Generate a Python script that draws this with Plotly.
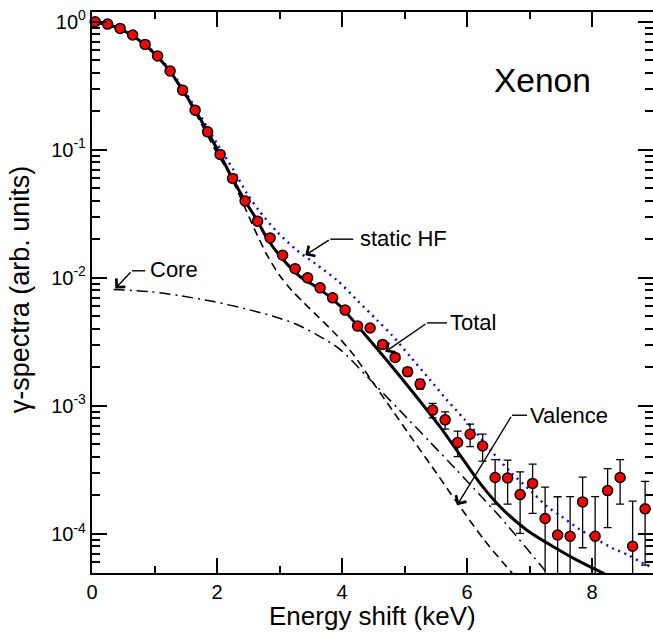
import plotly.graph_objects as go

# ---------------- data ----------------
energy = [0.05, 0.25, 0.45, 0.65, 0.85, 1.05, 1.25, 1.45, 1.65, 1.85,
          2.05, 2.25, 2.45, 2.65, 2.85, 3.05, 3.25, 3.45, 3.65, 3.85,
          4.05, 4.25, 4.45, 4.65, 4.85, 5.05, 5.25, 5.45, 5.65, 5.85,
          6.05, 6.25, 6.45, 6.65, 6.85, 7.05, 7.25, 7.45, 7.65, 7.85,
          8.05, 8.25, 8.45, 8.65, 8.85]
counts = [1.0, 0.959, 0.887, 0.787, 0.665, 0.540, 0.412, 0.292, 0.204, 0.138,
          0.092, 0.0598, 0.0398, 0.0277, 0.0205, 0.0150, 0.0118, 0.0100, 0.00835, 0.00698,
          0.00560, 0.00420, 0.00406, 0.00302, 0.00239, 0.00185, 0.00148, 0.000927, 0.000778, 0.000518,
          0.000601, 0.000486, 0.000276, 0.000274, 0.000203, 0.000248, 0.000132, 0.0000982, 0.0000959, 0.000178,
          0.0000959, 0.000218, 0.000276, 0.0000802, 0.000157]
errors = [0.002, 0.002, 0.002, 0.002, 0.002, 0.002, 0.0015, 0.0012, 0.001, 0.0008,
          0.0006, 0.0005, 0.0004, 0.0003, 0.00025, 0.0002, 0.0002, 0.00018, 0.00016, 0.00015,
          0.00015, 0.00014, 0.00014, 0.00014, 0.00013, 0.00013, 0.00013, 0.00012, 0.00012, 0.000117,
          0.00012, 0.000115, 0.000105, 0.000103, 0.000102, 0.000103, 0.0001, 0.000097, 0.0001, 0.0001,
          0.0001, 0.000106, 0.000105, 0.0001, 0.0001]

total_x = [0.0, 0.4, 0.8, 1.2, 1.6, 2.0, 2.24, 2.45, 2.65, 2.80, 3.04, 3.33, 3.65, 3.97,
           4.24, 4.67, 5.15, 5.57, 5.89, 6.21, 6.53, 6.96, 7.39, 7.76, 8.19, 8.4]
total_y = [1.0, 0.90, 0.69, 0.44, 0.224, 0.102, 0.0604, 0.0398, 0.0277, 0.0204, 0.0142, 0.0102,
           0.00813, 0.00603, 0.00427, 0.00242, 0.00125, 0.000685, 0.000412, 0.000248, 0.000163,
           0.000107, 0.0000791, 0.0000624, 0.0000491, 0.000044]

hf_x = [0.0, 0.4, 0.8, 1.2, 1.6, 2.0, 2.266, 2.48, 2.666, 2.96, 3.28, 3.573, 3.92, 4.24,
        4.56, 4.80, 5.093, 5.413, 5.68, 5.946, 6.16, 6.40, 6.72, 7.04, 7.28, 7.52, 7.786,
        8.053, 8.32, 8.586, 8.826, 9.0]
hf_y = [1.0, 0.905, 0.70, 0.45, 0.235, 0.112, 0.0692, 0.0456, 0.0338, 0.0229, 0.0164, 0.0129,
        0.00959, 0.00670, 0.00468, 0.00356, 0.00242, 0.00159, 0.00111, 0.000798, 0.000608,
        0.000438, 0.000296, 0.000213, 0.000164, 0.000136, 0.000110, 0.000092, 0.0000778,
        0.0000682, 0.0000587, 0.000054]

valence_x = [0.0, 0.4, 0.8, 1.2, 1.6, 2.0, 2.2, 2.4, 2.6, 2.8, 3.0, 3.2, 3.4, 3.6, 3.9,
             4.2, 4.5, 4.8, 5.1, 5.44, 5.84, 6.28, 6.71, 6.8]
valence_y = [0.99, 0.89, 0.68, 0.433, 0.216, 0.094, 0.0646, 0.0398, 0.0240, 0.0151, 0.01047,
             0.00794, 0.00631, 0.00507, 0.00363, 0.00245, 0.00151, 0.000933, 0.000575,
             0.000335, 0.000176, 0.0000891, 0.0000501, 0.0000447]

core_x = [0.346, 0.933, 1.413, 1.94, 2.48, 2.9, 3.28, 3.6, 3.973, 4.40, 4.933, 5.413, 5.813,
          6.10, 6.533, 7.221, 7.30]
core_y = [0.00811, 0.00780, 0.00724, 0.00653, 0.00569, 0.00501, 0.00432, 0.00359, 0.00275,
          0.00170, 0.000912, 0.000519, 0.000324, 0.000229, 0.000135, 0.0000537, 0.0000479]

y_tick_vals = [1e-4, 1e-3, 1e-2, 1e-1, 1.0]
y_tick_text = ['10<sup>-4</sup>', '10<sup>-3</sup>', '10<sup>-2</sup>', '10<sup>-1</sup>', '10<sup>0</sup>']
y_minor_vals = [m * d for d in (1e-5, 1e-4, 1e-3, 1e-2, 1e-1) for m in range(2, 10)]

FONT = "Liberation Sans, Arial, Helvetica, sans-serif"

fig = go.Figure()

fig.add_trace(go.Scatter(x=hf_x, y=hf_y, mode='lines', name='static HF',
                         line=dict(color='#0000ff', width=2.4, dash='2px,4.6px',
                                   shape='spline', smoothing=0.8)))
fig.add_trace(go.Scatter(x=core_x, y=core_y, mode='lines', name='Core',
                         line=dict(color='black', width=1.5, dash='11px,5px,2px,5px',
                                   shape='spline', smoothing=0.8)))
fig.add_trace(go.Scatter(x=valence_x, y=valence_y, mode='lines', name='Valence',
                         line=dict(color='black', width=1.6, dash='8px,5px',
                                   shape='spline', smoothing=0.8)))
fig.add_trace(go.Scatter(x=total_x, y=total_y, mode='lines', name='Total',
                         line=dict(color='black', width=3, shape='spline', smoothing=0.8)))
# error bars (clipped to the plot area)
fig.add_trace(go.Scatter(x=energy, y=counts, mode='markers', name='err',
                         marker=dict(size=1, color='rgba(0,0,0,0)'),
                         error_y=dict(type='data', array=errors, visible=True,
                                      color='black', thickness=1.3, width=4)))
# experimental points
fig.add_trace(go.Scatter(x=energy, y=counts, mode='markers', name='experiment', cliponaxis=False,
                         marker=dict(size=10, color='#ff0000', line=dict(color='black', width=1.5))))
# helper trace for right-side y ticks
fig.add_trace(go.Scatter(x=[1], y=[1], yaxis='y2', mode='markers',
                         marker=dict(size=1, color='rgba(0,0,0,0)'), hoverinfo='skip'))

# ---------------- annotations ----------------
def arrow(tip_x, tip_ly, elb_x, elb_ly, end_x, text, txt_x, txt_ly, size=22):
    fig.add_annotation(x=tip_x, y=tip_ly, ax=elb_x, ay=elb_ly, axref='x', ayref='y',
                       xref='x', yref='y', text='', showarrow=True, arrowhead=4,
                       arrowsize=1.7, arrowwidth=1.4, arrowcolor='black', standoff=0)
    fig.add_shape(type='line', xref='x', yref='y', x0=elb_x, x1=end_x,
                  y0=10 ** elb_ly, y1=10 ** elb_ly, line=dict(color='black', width=1.4))
    fig.add_annotation(x=txt_x, y=txt_ly, xref='x', yref='y', text=text, showarrow=False,
                       xanchor='left', yanchor='middle', font=dict(size=size, family=FONT, color='black'))

arrow(3.413, -1.823, 3.813, -1.698, 4.181, 'static HF', 4.25, -1.690)
arrow(4.693, -2.578, 5.36, -2.352, 5.68, 'Total', 5.70, -2.352)
arrow(5.84, -3.776, 6.72, -3.073, 6.96, 'Valence', 6.98, -3.073)
arrow(0.373, -2.083, 0.64, -1.945, 0.853, 'Core', 0.90, -1.936)

fig.add_annotation(x=6.40, y=-0.455, xref='x', yref='y', text='Xenon', showarrow=False,
                   xanchor='left', yanchor='middle', font=dict(size=33.5, family=FONT, color='black'))

# axis titles
fig.add_annotation(x=0.5, y=-0.0775, xref='paper', yref='paper', text='Energy shift (keV)',
                   showarrow=False, xanchor='center', yanchor='middle',
                   font=dict(size=26, family=FONT, color='black'))
fig.add_annotation(x=-0.128, y=0.506, xref='paper', yref='paper', text='γ-spectra (arb. units)',
                   showarrow=False, xanchor='center', yanchor='middle', textangle=-90,
                   font=dict(size=27, family=FONT, color='black'))

# ---------------- layout ----------------
axis_common = dict(showgrid=False, zeroline=False, showline=True, linecolor='black', linewidth=2.2,
                   ticks='inside', tickcolor='black', tickwidth=1.5, ticklen=15,
                   tickfont=dict(size=20, family=FONT, color='black'))

fig.update_layout(
    width=653, height=632,
    margin=dict(l=92, r=0, t=12, b=59),
    paper_bgcolor='white', plot_bgcolor='white',
    showlegend=False,
    font=dict(family=FONT, color='black'),
    xaxis=dict(range=[0, 8.976], dtick=2, tick0=0, mirror='ticks',
               minor=dict(dtick=1, tick0=0, ticks='inside', ticklen=7, tickwidth=1.5, tickcolor='black'),
               **axis_common),
    yaxis=dict(type='log', range=[-4.305, 0.076], tickmode='array', tickvals=y_tick_vals,
               ticktext=y_tick_text, mirror=False,
               minor=dict(tickmode='array', tickvals=y_minor_vals, ticks='inside', ticklen=8,
                          tickwidth=1.5, tickcolor='black'),
               **axis_common),
    yaxis2=dict(type='log', range=[-4.305, 0.076], overlaying='y', side='right', showline=False,
                showgrid=False, zeroline=False, tickmode='array', tickvals=y_tick_vals,
                showticklabels=False, ticks='inside', ticklen=15, tickwidth=1.5, tickcolor='black',
                minor=dict(tickmode='array', tickvals=y_minor_vals, ticks='inside', ticklen=8,
                           tickwidth=1.5, tickcolor='black')),
)

fig.write_html("out.html")
